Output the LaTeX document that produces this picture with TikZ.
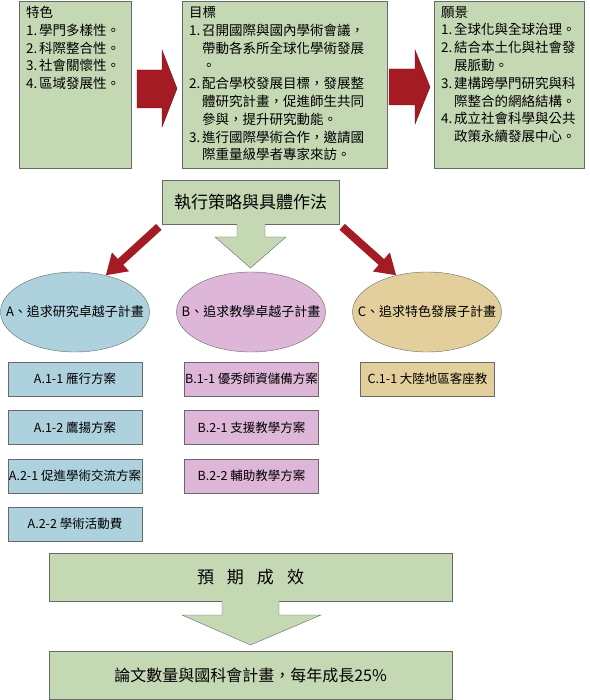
\documentclass[tikz,border=0pt]{standalone}
\usepackage{fontspec}
\setmainfont{Noto Sans CJK TC}
\usetikzlibrary{shapes.geometric,arrows.meta,positioning}
\definecolor{boxgreen}{RGB}{197,216,180}
\definecolor{boxblue}{RGB}{173,210,222}
\definecolor{boxpink}{RGB}{222,183,216}
\definecolor{boxtan}{RGB}{227,207,155}
\definecolor{arrowred}{RGB}{165,27,35}
\definecolor{edgegray}{RGB}{105,105,105}
\newcommand{\nr}[1]{\makebox[13pt][l]{#1}}
\newcommand{\indline}{\hspace*{13pt}}
\newcommand{\nowidth}[1]{\makebox[0pt]{#1}}

\begin{document}
\begin{tikzpicture}[x=1pt, y=-1pt,
  topbox/.style={draw=edgegray, fill=boxgreen, anchor=north west, inner xsep=7pt, inner ysep=5pt, font=\fontsize{13.5}{17.8}\selectfont},
  wide/.style={draw=edgegray, fill=boxgreen, minimum width=403, minimum height=48, inner sep=0pt},
  plan/.style={draw=edgegray, ellipse, minimum width=149, minimum height=80, inner sep=0pt, font=\fontsize{13}{15}\selectfont},
  item/.style={draw=edgegray, rectangle, minimum width=134, minimum height=34, inner sep=0pt, font=\fontsize{12.5}{15}\selectfont},
  redarrow/.style={arrowred, line width=8pt, shorten <=4pt, -{Triangle[length=20pt,width=24pt]}},
  blockarrow/.style={draw=edgegray, fill=boxgreen},
  bigarrow/.style={draw=arrowred!70!black, fill=arrowred}]
\useasboundingbox (0,0) rectangle (589,700);

% top row
\node[topbox] (feature) at (19,1) {\parbox[t][157pt][t]{98pt}{特色\\
\nr{1.}學門多樣性。\\
\nr{2.}科際整合性。\\
\nr{3.}社會關懷性。\\
\nr{4.}區域發展性。}};
\node[topbox] (goal) at (182,1) {\parbox[t][157pt][t]{191pt}{目標\\
\nr{1.}召開國際與國內學術會議，\\
\indline 帶動各系所全球化學術發展\\
\indline 。\\
\nr{2.}配合學校發展目標，發展整\\
\indline 體研究計畫，促進師生共同\\
\indline 參與，提升研究動能。\\
\nr{3.}進行國際學術合作，邀請國\\
\indline 際重量級學者專家來訪。}};
\node[topbox] (vision) at (434,1) {\parbox[t][157pt][t]{136pt}{願景\\
\nr{1.}全球化與全球治理。\\
\nr{2.}結合本土化與社會發\\
\indline 展脈動。\\
\nr{3.}建構跨學門研究與科\\
\indline 際整合的網絡結構。\\
\nr{4.}成立社會科學與公共\\
\indline 政策永續發展中心。}};

\draw[bigarrow] (137,70) -- (162,70) -- (162,50) -- (177,88.5) -- (162,127) -- (162,108) -- (137,108) -- cycle;
\draw[bigarrow] (389,69) -- (415,69) -- (415,50) -- (430,87) -- (415,124) -- (415,105) -- (389,105) -- cycle;

% strategies
\node[draw=edgegray, fill=boxgreen, minimum width=177, minimum height=44, font=\fontsize{17}{20}\selectfont] (strategy) at (250.5,202) {執行策略與具體作法};
\draw[blockarrow] (237,224) -- (237,237) -- (215,237) -- (250.5,268) -- (286,237) -- (265,237) -- (265,224);

\node[plan, fill=boxblue] (A) at (75,312) {\nowidth{A、追求研究卓越子計畫}};
\node[plan, fill=boxpink] (B) at (251,312) {\nowidth{B、追求教學卓越子計畫}};
\node[plan, fill=boxtan] (C) at (427,312) {\nowidth{C、追求特色發展子計畫}};
\draw[redarrow] (strategy.south west) -- (A.50);
\draw[redarrow] (strategy.south east) -- (C.130);

% sub plans
\node[item, fill=boxblue] (A11) at (75,379) {A.1-1 雁行方案};
\node[item, fill=boxblue, below=14pt of A11] (A12) {A.1-2 鷹揚方案};
\node[item, fill=boxblue, below=14pt of A12] (A21) {A.2-1 促進學術交流方案};
\node[item, fill=boxblue, below=14pt of A21] (A22) {A.2-2 學術活動費};
\node[item, fill=boxpink] (B11) at (251.5,379) {B.1-1 優秀師資儲備方案};
\node[item, fill=boxpink, below=14pt of B11] (B21) {B.2-1 支援教學方案};
\node[item, fill=boxpink, below=14pt of B21] (B22) {B.2-2 輔助教學方案};
\node[item, fill=boxtan] (C11) at (427.5,379) {C.1-1 大陸地區客座教};

% outcome
\node[wide, font=\fontsize{17}{20}\selectfont] (outcome) at (250.5,577) {預\hspace{13pt}期\hspace{13pt}成\hspace{13pt}效};
\draw[blockarrow] (222,601) -- (222,615) -- (182,615) -- (250.5,645) -- (321,615) -- (279,615) -- (279,601);
\node[wide, font=\fontsize{16}{19}\selectfont] (growth) at (250.5,675) {論文數量與國科會計畫，每年成長25\%};
\end{tikzpicture}
\end{document}
